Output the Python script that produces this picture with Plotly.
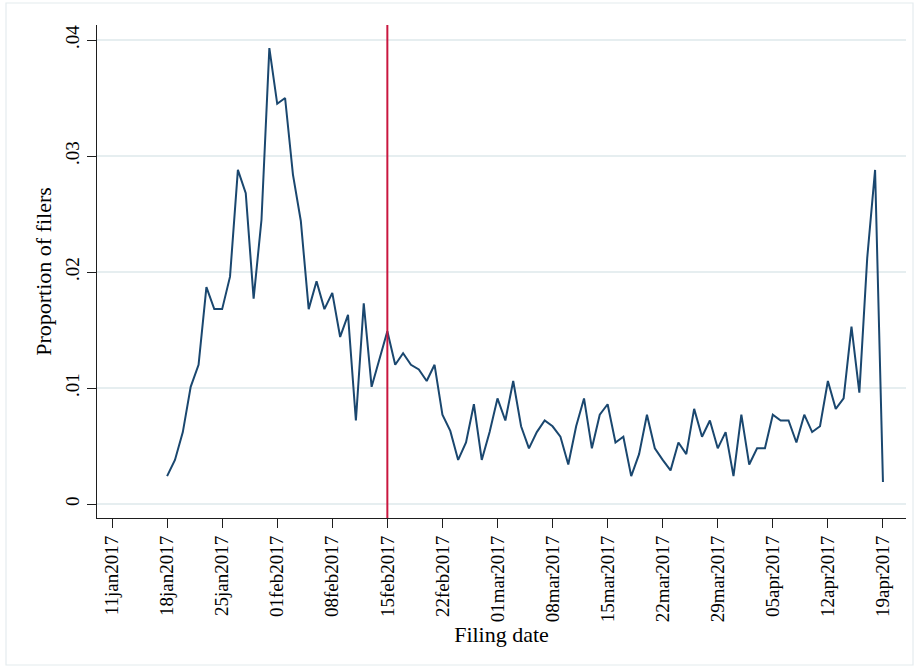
import pandas as pd
import plotly.graph_objects as go

# Daily share of filers, 18jan2017 .. 19apr2017
start_date = "2017-01-18"
proportion = [
    0.0024, 0.0038, 0.0062, 0.0101, 0.0120, 0.0187, 0.0168, 0.0168, 0.0196, 0.0288,
    0.0268, 0.0177, 0.0245, 0.0393, 0.0345, 0.0350, 0.0284, 0.0244, 0.0168, 0.0192,
    0.0168, 0.0182, 0.0144, 0.0163, 0.0072, 0.0173, 0.0101, 0.0125, 0.0149, 0.0120,
    0.0130, 0.0120, 0.0116, 0.0106, 0.0120, 0.0077, 0.0063, 0.0038, 0.0053, 0.0086,
    0.0038, 0.0062, 0.0091, 0.0072, 0.0106, 0.0067, 0.0048, 0.0062, 0.0072, 0.0067,
    0.0058, 0.0034, 0.0067, 0.0091, 0.0048, 0.0077, 0.0086, 0.0053, 0.0058, 0.0024,
    0.0043, 0.0077, 0.0048, 0.0038, 0.0029, 0.0053, 0.0043, 0.0082, 0.0058, 0.0072,
    0.0048, 0.0062, 0.0024, 0.0077, 0.0034, 0.0048, 0.0048, 0.0077, 0.0072, 0.0072,
    0.0053, 0.0077, 0.0062, 0.0067, 0.0106, 0.0082, 0.0091, 0.0153, 0.0096, 0.0212,
    0.0288, 0.0019,
]
dates = pd.date_range(start_date, periods=len(proportion), freq="D")

# Weekly x ticks
x_tick_dates = ["2017-01-11", "2017-01-18", "2017-01-25", "2017-02-01", "2017-02-08",
                "2017-02-15", "2017-02-22", "2017-03-01", "2017-03-08", "2017-03-15",
                "2017-03-22", "2017-03-29", "2017-04-05", "2017-04-12", "2017-04-19"]
x_tick_text = ["11jan2017", "18jan2017", "25jan2017", "01feb2017", "08feb2017",
               "15feb2017", "22feb2017", "01mar2017", "08mar2017", "15mar2017",
               "22mar2017", "29mar2017", "05apr2017", "12apr2017", "19apr2017"]

y_tick_vals = [0, 0.01, 0.02, 0.03, 0.04]
y_tick_text = ["0", ".01", ".02", ".03", ".04"]

cutoff_date = "2017-02-15"

W, H = 919, 668
ML, MR, MT, MB = 97, 13, 25, 150
PW, PH = W - ML - MR, H - MT - MB

FONT = "Liberation Serif, Times New Roman, serif"
NAVY = "#1a476f"
GRID = "#e6eef0"
AXIS = "#1e1e1e"

fig = go.Figure()
fig.add_trace(go.Scatter(
    x=dates, y=proportion, mode="lines",
    line=dict(color=NAVY, width=2),
    showlegend=False, hoverinfo="x+y",
))

# vertical reference line at the cutoff date
fig.add_shape(type="line", xref="x", yref="paper",
              x0=cutoff_date, x1=cutoff_date, y0=0, y1=1,
              line=dict(color="#c9173f", width=2), layer="above")

# light outer frame around the whole graph
fig.add_shape(type="rect", xref="paper", yref="paper",
              x0=(6 - ML) / PW, x1=(913 - ML) / PW,
              y0=(H - MB - 665) / PH, y1=(H - MB - 3) / PH,
              line=dict(color="#e4ebee", width=1.2), fillcolor="rgba(0,0,0,0)",
              layer="below")

fig.update_layout(
    width=W, height=H,
    margin=dict(l=ML, r=MR, t=MT, b=MB),
    paper_bgcolor="white", plot_bgcolor="white",
    font=dict(family=FONT, color="black", size=18),
    xaxis=dict(
        range=["2017-01-09 02:10", "2017-04-21 22:20"],
        tickmode="array", tickvals=x_tick_dates, ticktext=x_tick_text,
        tickangle=-90, tickfont=dict(size=19, family=FONT),
        ticks="outside", ticklen=9, tickwidth=1.3, tickcolor=AXIS,
        showline=True, linecolor=AXIS, linewidth=1.3,
        showgrid=False, zeroline=False,
        title=dict(text="Filing date", font=dict(size=22, family=FONT), standoff=4),
    ),
    yaxis=dict(
        range=[-0.001207, 0.041293],
        tickmode="array", tickvals=y_tick_vals, ticktext=y_tick_text,
        tickangle=-90, tickfont=dict(size=19, family=FONT),
        ticks="outside", ticklen=9, tickwidth=1.3, tickcolor=AXIS,
        showline=True, linecolor=AXIS, linewidth=1.3,
        showgrid=True, gridcolor=GRID, gridwidth=1.5,
        zeroline=False,
        title=dict(text="Proportion of filers", font=dict(size=22, family=FONT), standoff=4),
    ),
)

fig.write_html("out.html")
